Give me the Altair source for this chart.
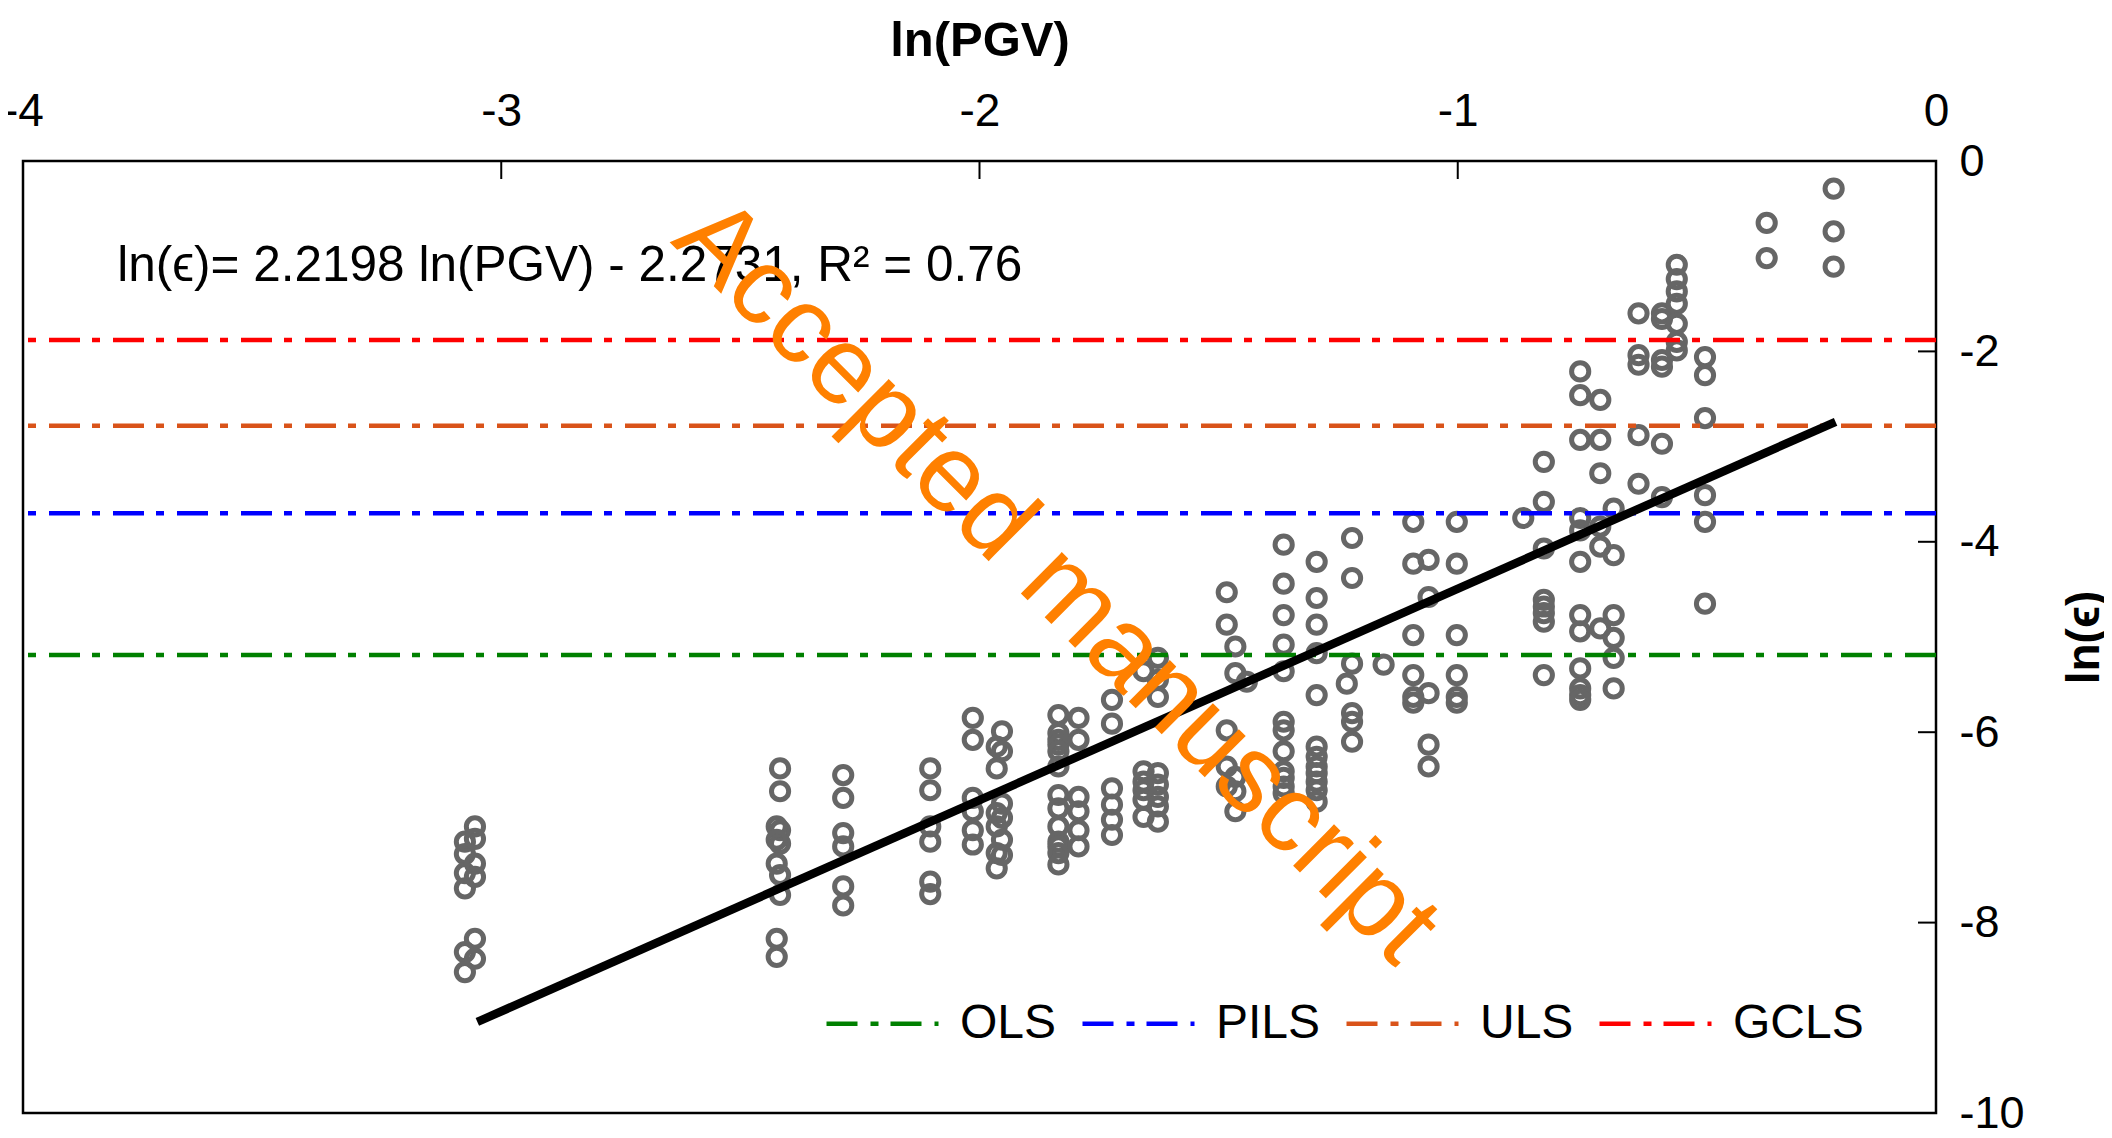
import altair as alt
import pandas as pd

# ---------------- data ----------------
col_pgv = [-3.076, -3.055, -2.417, -2.424, -2.285, -2.103, -2.014, -1.964, -1.953,
           -1.835, -1.793, -1.723, -1.657, -1.627, -1.483, -1.465, -1.441, -1.364,
           -1.295, -1.221, -1.232, -1.155, -1.093, -1.061, -1.002, -0.863, -0.820,
           -0.744, -0.702, -0.674, -0.622, -0.573, -0.542, -0.483, -0.354, -0.214]
col_eps = [
    [-7.15, -7.28, -7.48, -7.64, -8.31, -8.52],
    [-6.99, -7.12, -7.38, -7.52, -8.17, -8.38],
    [-6.38, -6.62, -7.03, -7.17, -7.50, -7.71],
    [-6.99, -7.13, -7.38, -8.17, -8.36],
    [-6.45, -6.69, -7.06, -7.20, -7.62, -7.82],
    [-6.38, -6.61, -6.99, -7.15, -7.57, -7.70],
    [-5.85, -6.08, -6.69, -6.83, -7.03, -7.18],
    [-6.15, -6.38, -6.85, -6.99, -7.27, -7.43],
    [-5.99, -6.20, -6.75, -6.90, -7.13, -7.29],
    [-5.82, -6.01, -6.08, -6.13, -6.20, -6.36, -6.66, -6.80, -6.99, -7.15, -7.20, -7.27, -7.39],
    [-5.85, -6.08, -6.68, -6.83, -7.03, -7.20],
    [-5.66, -5.91, -6.59, -6.76, -6.92, -7.08],
    [-5.36, -6.41, -6.52, -6.61, -6.71, -6.89],
    [-5.22, -5.45, -5.63, -6.43, -6.55, -6.68, -6.78, -6.94],
    [-4.53, -4.87, -5.98, -6.36, -6.57],
    [-5.10, -5.38, -6.47, -6.62, -6.83],
    [-5.47],
    [-4.03, -4.44, -4.77, -5.08, -5.36, -5.89, -5.98, -6.20, -6.41, -6.48, -6.57, -6.64],
    [-4.21, -4.59, -4.87, -5.17, -5.61, -6.15, -6.26, -6.36, -6.43, -6.52, -6.61, -6.73],
    [-3.96, -4.38, -5.28, -5.80, -5.89, -6.10],
    [-5.49],
    [-5.29],
    [-3.79, -4.23, -4.98, -5.40, -5.63, -5.69],
    [-4.19, -4.58, -5.59, -6.13, -6.36],
    [-3.79, -4.23, -4.98, -5.40, -5.63, -5.69],
    [-3.75],
    [-3.16, -3.58, -4.07, -4.61, -4.68, -4.75, -4.84, -5.40],
    [-2.21, -2.46, -2.93, -3.75, -3.88, -4.21, -4.77, -4.94, -5.33, -5.54, -5.61, -5.66],
    [-2.51, -2.93, -3.28, -3.84, -4.05, -4.91],
    [-3.65, -4.14, -4.77, -5.01, -5.22, -5.54],
    [-1.60, -2.04, -2.14, -2.88, -3.39],
    [-1.60, -1.66, -2.09, -2.16, -2.97, -3.53],
    [-1.09, -1.24, -1.37, -1.50, -1.71, -1.90, -1.99],
    [-2.06, -2.25, -2.70, -3.51, -3.79, -4.65],
    [-0.65, -1.02],
    [-0.29, -0.74, -1.11],
]

methods = ["OLS", "PILS", "ULS", "GCLS"]
levels = [-5.19, -3.70, -2.78, -1.88]
method_colors = ["#008000", "#0000FF", "#D95319", "#FF0000"]

slope = 2.2198
intercept = -2.2731
r2 = 0.76
fit_x = [-3.05, -0.21]

x_ticks = [-4, -3, -2, -1, 0]
y_ticks = [0, -2, -4, -6, -8, -10]
inner_x_ticks = [-3, -2, -1]
inner_y_ticks = [-2, -4, -6, -8]

equation = f"ln(\u03f5)= {slope} ln(PGV) - {abs(intercept)}, R\u00b2 = {r2}"
eq_pos = (-3.803, -1.26)
watermark = "Accepted manuscript"
wm_pos = (-1.84, -4.42)

# ---------------- build tables ----------------
pts = pd.DataFrame(
    [(x, y) for x, ys_ in zip(col_pgv, col_eps) for y in ys_], columns=["x", "y"]
)
hl = pd.DataFrame({"method": methods, "y": levels})
fit = pd.DataFrame({"x": fit_x, "y": [slope * v + intercept for v in fit_x]})
eq = pd.DataFrame({"x": [eq_pos[0]], "y": [eq_pos[1]], "t": [equation]})
wm = pd.DataFrame({"x": [wm_pos[0]], "y": [wm_pos[1]], "t": [watermark]})
xt = pd.DataFrame({"x": inner_x_ticks})
yt = pd.DataFrame({"y": inner_y_ticks})

W, H = 1913, 952
FONT = "Liberation Sans"
DASH = [31, 13, 8, 12]

xs = alt.Scale(domain=[-4, 0], nice=False, zero=False)
ys = alt.Scale(domain=[-10, 0], nice=False, zero=False)

xaxis = alt.Axis(
    orient="top", values=x_ticks, ticks=False, grid=False, domain=False,
    labelExpr="'' + datum.value", labelFont=FONT, labelFontSize=46,
    labelColor="black", labelPadding=26, labelFlush=False, labelOverlap=False,
    title="ln(PGV)", titleFont=FONT, titleFontSize=49, titleFontWeight="bold",
    titleColor="black", titleX=W / 2, titleY=-121, titleAlign="center",
    titleBaseline="middle",
)
yaxis = alt.Axis(
    orient="right", values=y_ticks, ticks=False, grid=False, domain=False,
    labelExpr="'' + datum.value", labelFont=FONT, labelFontSize=45,
    labelColor="black", labelPadding=23, labelAlign="left", labelBaseline="middle",
    labelFlush=False, labelOverlap=False,
    title="ln(\u03f5)", titleFont=FONT, titleFontSize=46, titleFontWeight="bold",
    titleColor="black", titleAngle=270, titleX=148, titleY=H / 2,
    titleAlign="center", titleBaseline="middle",
)

X = alt.X("x:Q", scale=xs, axis=xaxis)
Y = alt.Y("y:Q", scale=ys, axis=yaxis)

points = alt.Chart(pts).mark_point(
    shape="circle", filled=False, size=295, strokeWidth=5, color="#666666", opacity=1
).encode(x=X, y=Y)

hlines = alt.Chart(hl).mark_rule(strokeWidth=4.5, strokeDash=DASH).encode(
    y=Y,
    color=alt.Color(
        "method:N",
        scale=alt.Scale(domain=methods, range=method_colors),
        sort=methods,
        legend=alt.Legend(
            orient="none", legendX=801, legendY=804, direction="horizontal", columns=4,
            title=None, symbolType="stroke", symbolSize=12544, symbolStrokeWidth=4.5,
            symbolDash=DASH, labelFont=FONT, labelFontSize=48,
            labelColor="black", labelOffset=19, columnPadding=16, padding=0,
        ),
    ),
)

fitline = alt.Chart(fit).mark_line(color="black", strokeWidth=8.5).encode(x=X, y=Y)

eqtext = alt.Chart(eq).mark_text(
    align="left", baseline="alphabetic", font=FONT, fontSize=49.5, color="black"
).encode(x=X, y=Y, text="t:N")

wmtext = alt.Chart(wm).mark_text(
    align="center", baseline="middle", font=FONT, fontSize=110, color="#FF8000", angle=45
).encode(x=X, y=Y, text="t:N")

xtick = alt.Chart(xt).mark_rule(color="black", strokeWidth=2).encode(
    x=X, y=alt.value(0), y2=alt.value(18)
)
ytick = alt.Chart(yt).mark_rule(color="black", strokeWidth=2).encode(
    y=Y, x=alt.value(W - 18), x2=alt.value(W)
)

chart = (
    alt.layer(points, hlines, fitline, eqtext, xtick, ytick, wmtext)
    .properties(
        width=W, height=H,
        autosize=alt.AutoSizeParams(type="none"),
        padding={"left": 15, "top": 153, "right": 168, "bottom": 17},
        background="white",
    )
    .configure_view(stroke="black", strokeWidth=2.5)
)

chart.save("out.html", embed_options={"renderer": "svg", "actions": False})
